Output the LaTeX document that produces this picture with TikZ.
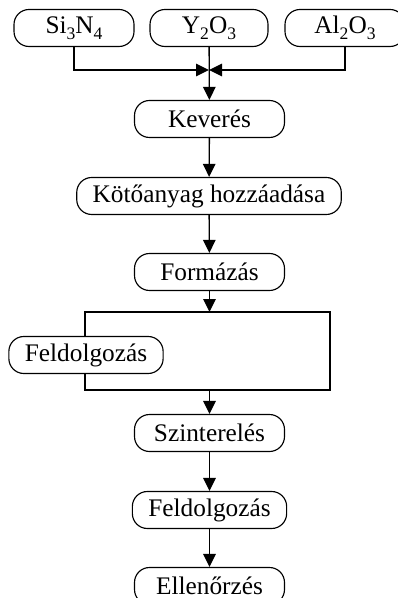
\documentclass[tikz,border=0pt]{standalone}
\usepackage{fontspec}
\setmainfont{Liberation Serif}
\usetikzlibrary{arrows.meta}

\newcommand{\stagefont}{\fontsize{14.4}{17}\selectfont}
\newcommand{\chemsub}[1]{\raisebox{-0.22em}{\fontsize{10}{12}\selectfont #1}}
\tikzset{
  stage/.style={draw, line width=0.65pt, fill=white, rounded corners=0.3cm, minimum height=0.74cm, minimum width=3cm, inner xsep=0.32cm, font=\stagefont},
  flow/.style={-{Triangle[length=2.6mm,width=2.5mm]}, line width=0.75pt}
}

\begin{document}
\begin{tikzpicture}[scale=1.0]
\useasboundingbox (0, 0) rectangle (7.94, -11.96);

\node[stage, minimum width=2.4cm] (si) at (1.48, -0.56) {Si\chemsub{3}N\chemsub{4}};
\node[stage, minimum width=2.36cm] (yo) at (4.18, -0.56) {Y\chemsub{2}O\chemsub{3}};
\node[stage, minimum width=2.4cm] (al) at (6.9, -0.56) {Al\chemsub{2}O\chemsub{3}};
\coordinate (mix) at (4.18, -1.40);

\node[stage] (kever) at (4.19, -2.38) {Keverés};
\node[stage] (koto) at (4.18, -3.92) {Kötőanyag hozzáadása};
\node[stage] (formaz) at (4.19, -5.44) {Formázás};

\draw[line width=0.75pt] (1.70, -6.24) rectangle (6.60, -7.80);
\coordinate (looptop) at (4.19, -6.24);
\coordinate (loopbot) at (4.19, -7.80);
\node[stage] (feld1) at (1.72, -7.10) {Feldolgozás};

\node[stage] (szint) at (4.19, -8.66) {Szinterelés};
\node[stage] (feld2) at (4.19, -10.20) {Feldolgozás};
\node[stage] (ellen) at (4.19, -11.72) {Ellenőrzés};

\draw[flow] (si) |- (mix);
\draw[flow] (al) |- (mix);
\draw[flow] (yo) -- (kever);
\draw[flow] (kever) -- (koto);
\draw[flow] (koto) -- (formaz);
\draw[flow] (formaz) -- (looptop);
\draw[flow] (loopbot) -- (szint);
\draw[flow] (szint) -- (feld2);
\draw[flow] (feld2) -- (ellen);

\end{tikzpicture}
\end{document}
